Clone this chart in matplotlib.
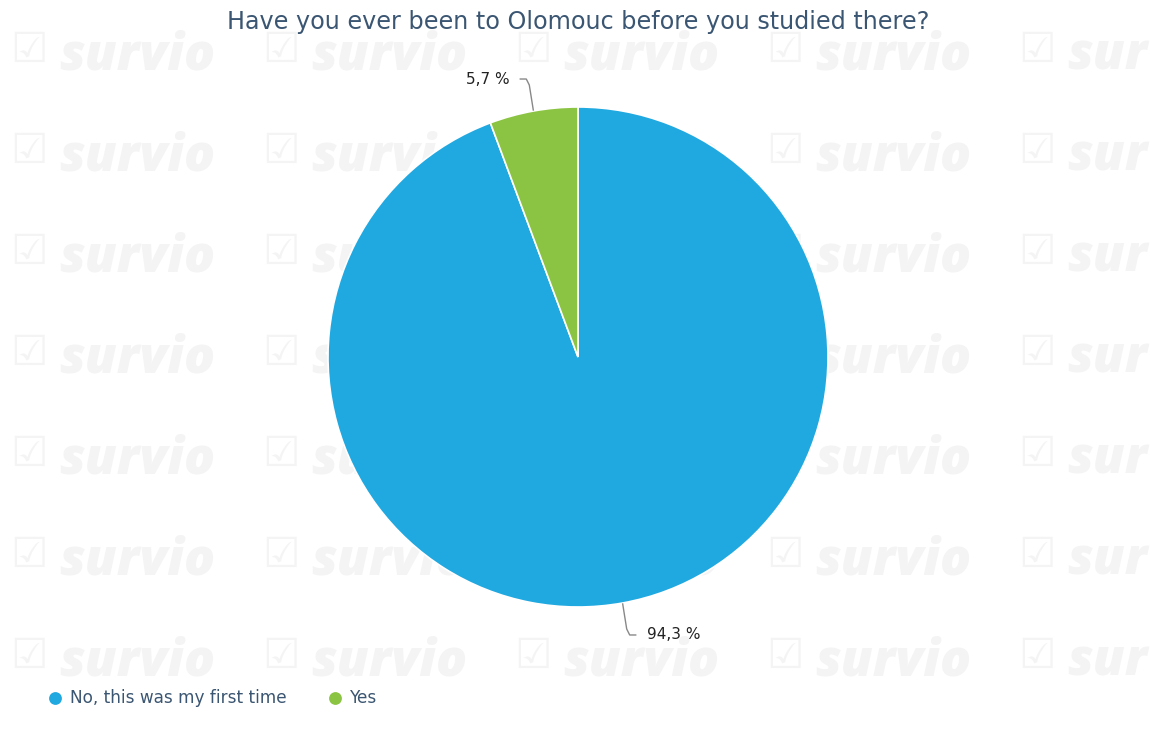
import numpy as np
import matplotlib
matplotlib.use("Agg")
import matplotlib.pyplot as plt

# survey answers
answers = ["No, this was my first time", "Yes"]
shares = [94.3, 5.7]
colors = ["#20a8e0", "#8bc443"]
title = "Have you ever been to Olomouc before you studied there?"

W, H = 1150, 749
fig = plt.figure(figsize=(W / 100, H / 100), dpi=100)
ax = fig.add_axes([0, 0, 1, 1])

# faint background watermark
wm = "#f4f4f4"
for row in range(7):
    for col in range(5):
        x = 12 + col * 252
        y = H - (155 + (row - 1) * 101)
        ax.text(x - 2, y + 4, "\u2611", fontsize=30, color=wm,
                ha="left", va="center", zorder=0)
        word = "survio" if col < 4 else "sur"
        ax.text(x + 47, y - 2, word, fontsize=37, fontweight="heavy",
                fontstyle="italic", family="Open Sans", color=wm,
                ha="left", va="center", zorder=0)

cx, cy, r = 578, H - 357, 250
wedges, _ = ax.pie(shares, colors=colors, startangle=90, counterclock=False,
                   center=(cx, cy), radius=r, frame=True,
                   wedgeprops=dict(edgecolor="white", linewidth=1.2))
ax.set_xlim(0, W)
ax.set_ylim(0, H)
ax.set_aspect("equal")
ax.axis("off")

# percentage labels with leader lines
for w, val in zip(wedges, shares):
    ang = np.deg2rad((w.theta1 + w.theta2) / 2)
    up = np.sign(np.sin(ang))
    side = 1 if np.cos(ang) > 0 else -1
    x1, y1 = cx + (r + 1) * np.cos(ang), cy + (r + 1) * np.sin(ang)
    x2, y2 = x1 + side * 4, y1 + up * 25
    x3, y3 = x2 + side * 3, y2 + up * 6
    x4 = x3 + side * 6
    ax.plot([x1, x2, x3, x4], [y1, y2, y3, y3],
            color="#888888", lw=1, solid_joinstyle="round")
    lbl = f"{val:.1f} %".replace(".", ",")
    ax.text(x4 + side * 11, y3, lbl, fontsize=11, color="#222222",
            ha="left" if side > 0 else "right", va="center")

ax.text(W / 2 + 3, H - 22, title, fontsize=17.2, color="#3b5672",
        ha="center", va="center")

# legend
lx = [55, 335]
for x, name, c in zip(lx, answers, colors):
    ax.scatter([x], [H - 698], s=85, color=c, zorder=3, linewidths=0)
    ax.text(x + 15, H - 698, name, fontsize=12.2, color="#3b5672",
            ha="left", va="center")

fig.savefig("out.png", dpi=100, facecolor="white")
